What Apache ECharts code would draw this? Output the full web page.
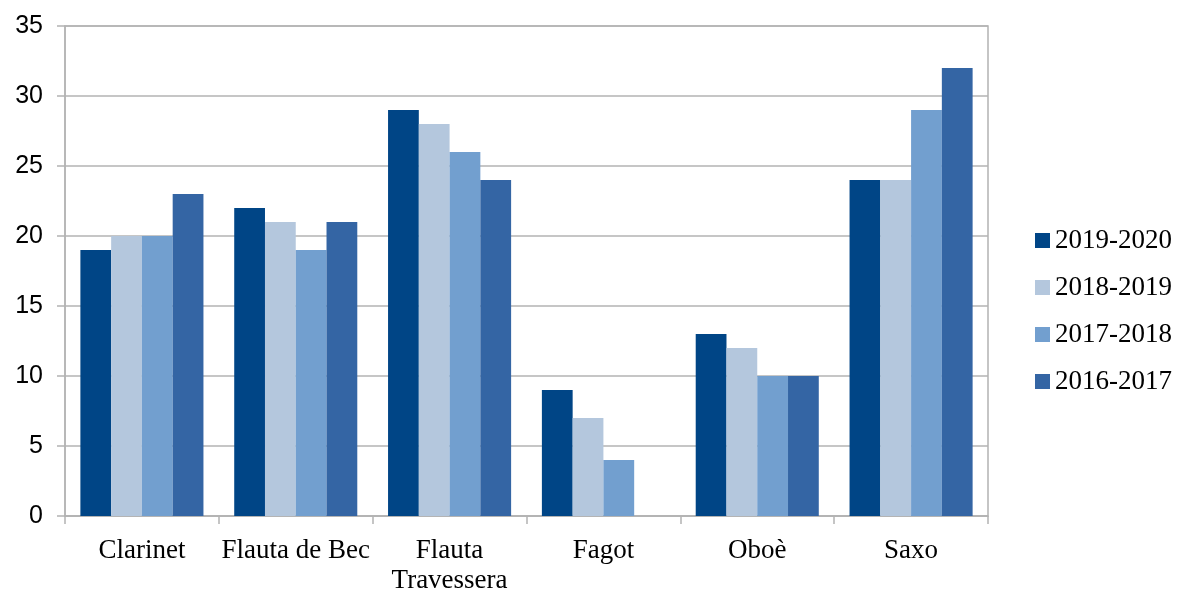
<!DOCTYPE html>
<html><head><meta charset="utf-8">
<script src="https://cdn.jsdelivr.net/npm/echarts@6/dist/echarts.min.js"></script>
<style>html,body{margin:0;padding:0;background:#fff}#c{width:1181px;height:592px}</style>
</head><body><div id="c"></div>
<script>
const categories = ['Clarinet', 'Flauta de Bec', 'Flauta\nTravessera', 'Fagot', 'Oboè', 'Saxo'];
const seriesNames = ['2019-2020', '2018-2019', '2017-2018', '2016-2017'];
const s2019_2020 = [19, 22, 29, 9, 13, 24];
const s2018_2019 = [20, 21, 28, 7, 12, 24];
const s2017_2018 = [20, 19, 26, 4, 10, 29];
const s2016_2017 = [23, 21, 24, null, 10, 32];
const yTicks = [0, 5, 10, 15, 20, 25, 30, 35];
const colors = ['#004586', '#b4c7dd', '#729fcf', '#3465a4'];
const values = [s2019_2020, s2018_2019, s2017_2018, s2016_2017];

const chart = echarts.init(document.getElementById('c'), null, {renderer: 'canvas'});
const gray = '#b3b3b3';
chart.setOption({
  animation: false,
  color: colors,
  grid: {left: 65, right: 193, top: 26, bottom: 76, show: true, borderColor: gray, borderWidth: 1.5,
         containLabel: false, outerBoundsMode: 'none'},
  legend: {
    orient: 'vertical', left: 1030, top: 222, itemWidth: 15, itemHeight: 15, itemGap: 20, itemTextGap: 8, icon: 'rect',
    textStyle: {fontFamily: 'Liberation Serif', fontSize: 27, lineHeight: 27, color: '#000'},
    data: seriesNames
  },
  xAxis: {
    type: 'category', data: categories,
    axisLine: {lineStyle: {color: gray, width: 1.5}},
    axisTick: {show: true, length: 8, lineStyle: {color: gray, width: 1.5}},
    axisLabel: {fontFamily: 'Liberation Serif', fontSize: 27, color: '#000', margin: 20, lineHeight: 30, interval: 0}
  },
  yAxis: {
    type: 'value', min: yTicks[0], max: yTicks[yTicks.length-1], interval: 5,
    axisLine: {show: true, lineStyle: {color: gray, width: 1.5}},
    axisTick: {show: true, length: 8, lineStyle: {color: gray, width: 1.5}},
    splitLine: {lineStyle: {color: gray, width: 1.5}},
    axisLabel: {fontFamily: 'Liberation Sans', fontSize: 25, color: '#000', margin: 22}
  },
  series: seriesNames.map((n, i) => ({
    name: n, type: 'bar', data: values[i], barGap: '0%', barCategoryGap: '20%',
    itemStyle: {color: colors[i]}
  }))
});
</script></body></html>
